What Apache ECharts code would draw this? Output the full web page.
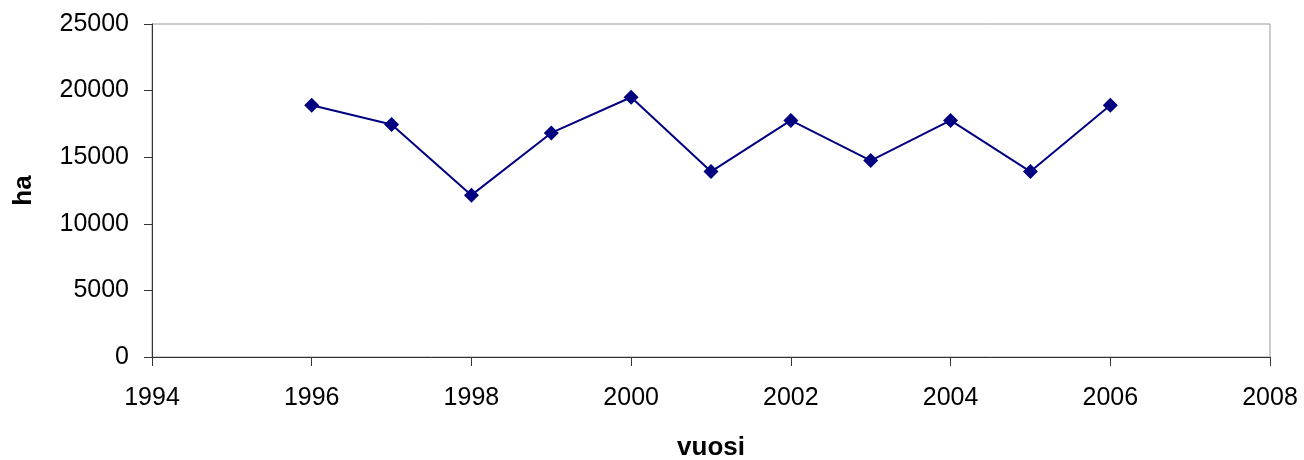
<!DOCTYPE html>
<html>
<head>
<meta charset="utf-8">
<script src="https://cdn.jsdelivr.net/npm/echarts@6/dist/echarts.min.js"></script>
<style>
  html, body { margin: 0; padding: 0; background: #fff; }
  #chart { width: 1304px; height: 460px; }
</style>
</head>
<body>
<div id="chart"></div>
<script>
// data
const years = [1996, 1997, 1998, 1999, 2000, 2001, 2002, 2003, 2004, 2005, 2006];
const hectares = [18900, 17450, 12150, 16820, 19500, 13920, 17760, 14750, 17760, 13920, 18900];

const chart = echarts.init(document.getElementById("chart"));
const font = "Liberation Sans, Arial, sans-serif";

chart.setOption({
  animation: false,
  grid: {
    left: 152,
    top: 24,
    width: 1118,
    height: 333,
    outerBoundsMode: "none",
    containLabel: false,
    show: true,
    borderColor: "#999",
    borderWidth: 1,
  },
  xAxis: {
    type: "value",
    min: 1994,
    max: 2008,
    interval: 2,
    name: "vuosi",
    nameLocation: "middle",
    nameGap: 78,
    nameTextStyle: { fontFamily: font, fontSize: 26, fontWeight: "bold", color: "#000" },
    axisLine: { onZero: false, lineStyle: { color: "#333", width: 1 } },
    axisTick: { inside: false, length: 9, lineStyle: { color: "#333" } },
    axisLabel: { fontFamily: font, fontSize: 25, color: "#000", margin: 29, formatter: (v) => String(v) },
    splitLine: { show: false },
  },
  yAxis: {
    type: "value",
    min: 0,
    max: 25000,
    interval: 5000,
    name: "ha",
    nameLocation: "middle",
    nameGap: 115,
    nameRotate: 90,
    nameTextStyle: { fontFamily: font, fontSize: 26, fontWeight: "bold", color: "#000" },
    axisLine: { show: true, lineStyle: { color: "#333", width: 1 } },
    axisTick: { show: true, length: 8, lineStyle: { color: "#333" } },
    axisLabel: { fontFamily: font, fontSize: 25, color: "#000", margin: 23, formatter: (v) => String(v) },
    splitLine: { show: false },
  },
  series: [
    {
      type: "line",
      data: years.map((y, i) => [y, hectares[i]]),
      symbol: "diamond",
      symbolSize: 15,
      itemStyle: { color: "#000080" },
      lineStyle: { color: "#000080", width: 2 },
    },
  ],
});
</script>
</body>
</html>
